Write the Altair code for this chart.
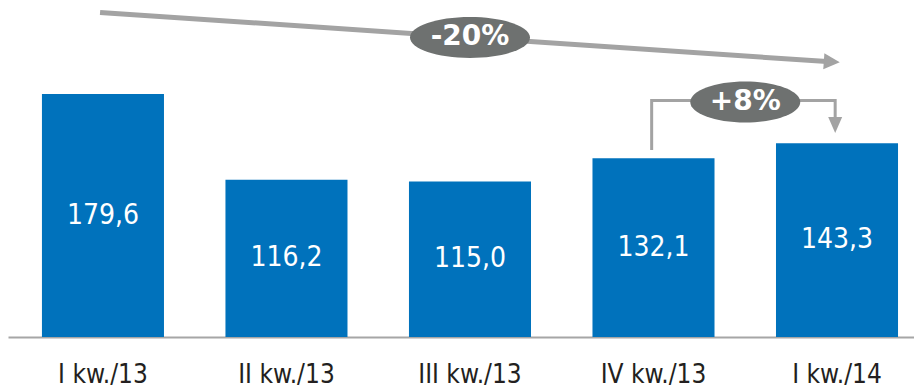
import altair as alt
import pandas as pd

# ---- data ----
quarters = ["I kw./13", "II kw./13", "III kw./13", "IV kw./13", "I kw./14"]
values = [179.6, 116.2, 115.0, 132.1, 143.3]
value_labels = ["179,6", "116,2", "115,0", "132,1", "143,3"]

# annotations, x in quarter-index units (0 = first quarter), y in data units
trend_x = [-0.016, 3.945]
trend_y = [239.9, 203.6]
trend_head_x = [3.989]
trend_head_y = [203.3]
trend_badge_x = [2.0]
trend_badge_y = [221.4]
trend_badge_text = ["-20%"]

step_x = [2.99, 2.99, 3.99, 3.99]
step_y = [138.2, 174.8, 174.8, 160.4]
step_head_x = [3.99]
step_head_y = [150.8]
step_badge_x = [3.5]
step_badge_y = [173.7]
step_badge_text = ["+8%"]

BLUE = "#0072bc"
LINE_GRAY = "#a3a3a3"
BADGE_GRAY = "#6e7170"

bars_df = pd.DataFrame({"q": quarters, "v": values, "lab": value_labels})
trend_df = pd.DataFrame({"x": trend_x, "y": trend_y})
trend_head_df = pd.DataFrame({"x": trend_head_x, "y": trend_head_y})
trend_badge_df = pd.DataFrame({"x": trend_badge_x, "y": trend_badge_y, "t": trend_badge_text})
step_df = pd.DataFrame({"x": step_x, "y": step_y, "i": list(range(len(step_x)))})
step_head_df = pd.DataFrame({"x": step_head_x, "y": step_head_y})
step_badge_df = pd.DataFrame({"x": step_badge_x, "y": step_badge_y, "t": step_badge_text})

yscale = alt.Scale(domain=[0, 243.2], nice=False, zero=True)
xband = alt.Scale(paddingInner=0.335, paddingOuter=0.136, align=0.68)
xq = alt.Scale(domain=[-0.5177, 4.4196], nice=False, zero=False)

xaxis = alt.Axis(
    title=None,
    labelAngle=0,
    ticks=False,
    grid=False,
    domainColor="#a6a6a6",
    domainWidth=2,
    labelFont="DejaVu Sans Condensed",
    labelFontSize=26,
    labelColor="#231f20",
    labelPadding=24,
)

xcat = alt.X("q:N", sort=quarters, scale=xband, axis=xaxis)

bars = alt.Chart(bars_df).mark_bar(color=BLUE).encode(
    x=xcat, y=alt.Y("v:Q", scale=yscale, axis=None)
)

bar_text = (
    alt.Chart(bars_df)
    .transform_calculate(mid="datum.v / 2")
    .mark_text(font="DejaVu Sans Condensed", fontSize=28, color="white", baseline="middle")
    .encode(x=xcat,
            y=alt.Y("mid:Q", scale=yscale, axis=None),
            text="lab:N")
)

base_layer = alt.layer(bars, bar_text)

XQ = alt.X("x:Q", scale=xq, axis=None)
YQ = alt.Y("y:Q", scale=yscale, axis=None)

trend_line = alt.Chart(trend_df).mark_line(color=LINE_GRAY, strokeWidth=5, strokeCap="butt").encode(x=XQ, y=YQ)
trend_head = alt.Chart(trend_head_df).mark_point(
    shape="M0.6,0 L-1.4,-1 L-1.4,1 Z", size=256, filled=True, color=LINE_GRAY,
    opacity=1, strokeWidth=0, angle=3.9
).encode(x=XQ, y=YQ)
trend_ellipse = alt.Chart(trend_badge_df).mark_point(
    shape="M-1,0 A1,0.34 0 1,1 1,0 A1,0.34 0 1,1 -1,0 Z", size=14400, filled=True,
    color=BADGE_GRAY, opacity=1, strokeWidth=0
).encode(x=XQ, y=YQ)
trend_text = alt.Chart(trend_badge_df).mark_text(
    font="DejaVu Sans", fontWeight="bold", fontSize=28, color="white", baseline="middle"
).encode(x=XQ, y=YQ, text="t:N")

step_line = alt.Chart(step_df).mark_line(color=LINE_GRAY, strokeWidth=3, strokeCap="butt", strokeJoin="miter").encode(
    x=XQ, y=YQ, order="i:Q")
step_head = alt.Chart(step_head_df).mark_point(
    shape="M0,0 L-0.875,-2 L0.875,-2 Z", size=256, filled=True, color=LINE_GRAY,
    opacity=1, strokeWidth=0
).encode(x=XQ, y=YQ)
step_ellipse = alt.Chart(step_badge_df).mark_point(
    shape="M-1,0 A1,0.373 0 1,1 1,0 A1,0.373 0 1,1 -1,0 Z", size=12100, filled=True,
    color=BADGE_GRAY, opacity=1, strokeWidth=0
).encode(x=XQ, y=YQ)
step_text = alt.Chart(step_badge_df).mark_text(
    font="DejaVu Sans", fontWeight="bold", fontSize=28, color="white", baseline="middle"
).encode(x=XQ, y=YQ, text="t:N")

annot = alt.layer(trend_line, trend_head, trend_ellipse, trend_text,
                  step_line, step_head, step_ellipse, step_text)

chart = (
    alt.layer(base_layer, annot)
    .resolve_scale(x="independent")
    .properties(
        width=906,
        height=329,
        autosize=alt.AutoSizeParams(type="none"),
        padding={"left": 0, "top": 0, "right": 0, "bottom": 50},
        background="white",
    )
    .configure_view(stroke=None)
)

chart.save("out.html", embed_options={"renderer": "svg", "actions": False})
